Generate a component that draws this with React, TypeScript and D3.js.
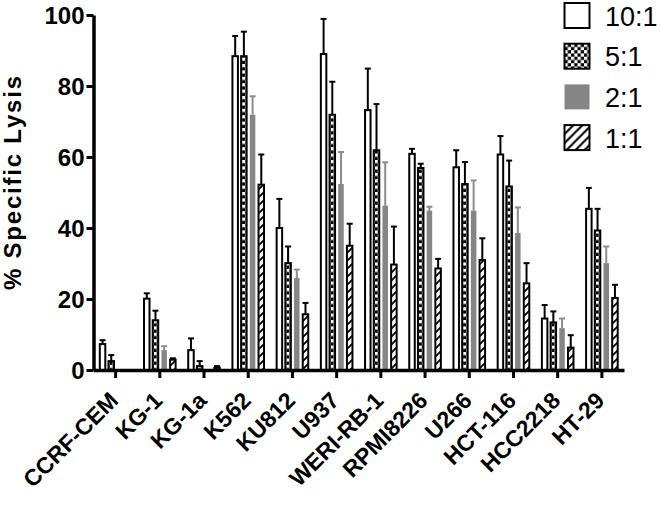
import React, { useRef, useEffect } from 'react';
import * as d3 from 'd3';

const cellLines = ['CCRF-CEM', 'KG-1', 'KG-1a', 'K562', 'KU812', 'U937', 'WERI-RB-1', 'RPMI8226', 'U266', 'HCT-116', 'HCC2218', 'HT-29'];
const ratios = ['10:1', '5:1', '2:1', '1:1'];

// mean % lysis and upper error (SEM) per E:T ratio
const ratio10 = [7.3, 20.1, 5.6, 88.4, 40.0, 89.0, 73.2, 60.9, 57.1, 60.7, 14.5, 45.4];
const ratio10Err = [1.1, 1.5, 3.3, 5.7, 8.2, 9.9, 11.7, 1.4, 4.8, 5.2, 3.8, 5.9];
const ratio5 = [2.5, 14.0, 1.1, 88.4, 30.1, 71.9, 61.9, 56.9, 52.4, 51.7, 13.4, 39.3];
const ratio5Err = [1.7, 2.7, 1.4, 6.9, 4.7, 9.3, 13.0, 1.2, 6.2, 7.3, 3.1, 6.1];
const ratio2 = [0, 5.6, 0, 71.9, 25.9, 52.4, 46.3, 44.9, 44.9, 38.6, 11.8, 30.1];
const ratio2Err = [0, 1.1, 0, 5.2, 2.4, 9.0, 12.2, 1.1, 8.5, 7.2, 2.7, 4.7];
const ratio1 = [0, 2.9, 0.6, 52.2, 15.7, 35.0, 29.7, 28.6, 31.0, 24.4, 6.3, 20.3];
const ratio1Err = [0, 0.4, 0.5, 8.5, 3.2, 6.2, 10.7, 2.7, 6.1, 5.7, 3.5, 3.7];

const yTicks = [0, 20, 40, 60, 80, 100];

const FONT = "Arial, 'Liberation Sans', Helvetica, sans-serif";
const GRAY = '#858585';

export default function App() {
  const xAxisRef = useRef<SVGGElement>(null);
  const yAxisRef = useRef<SVGGElement>(null);

  const width = 661;
  const height = 507;
  const x0 = 93.5, x1 = 624, yBase = 370, yTop = 15;

  const x = d3.scaleBand<string>().domain(cellLines).range([x0, x1]).padding(0);
  const xInner = d3.scaleBand<string>().domain(ratios).range([-16.8, 16.8]).paddingInner(0.138);
  const y = d3.scaleLinear().domain([0, 100]).range([yBase, yTop]);

  const means = [ratio10, ratio5, ratio2, ratio1];
  const errs = [ratio10Err, ratio5Err, ratio2Err, ratio1Err];

  useEffect(() => {
    const yAxis = d3.axisLeft(y).tickValues(yTicks).tickSize(7).tickSizeOuter(0).tickPadding(2);
    const gy = d3.select(yAxisRef.current!);
    gy.call(yAxis);
    gy.select('.domain').attr('stroke-width', 3.5).attr('stroke', '#000');
    gy.selectAll('.tick line').attr('stroke-width', 3).attr('stroke', '#000');
    gy.selectAll('.tick text')
      .attr('font-family', FONT).attr('font-weight', 'bold').attr('font-size', 24).attr('fill', '#000')
      .attr('dy', '0.36em');

    const xAxis = d3.axisBottom(x).tickSize(8).tickSizeOuter(0);
    const gx = d3.select(xAxisRef.current!);
    gx.call(xAxis);
    gx.select('.domain').attr('stroke-width', 3.5).attr('stroke', '#000');
    gx.selectAll('.tick line').attr('stroke-width', 3).attr('stroke', '#000');
    gx.selectAll('.tick text')
      .attr('font-family', FONT).attr('font-weight', 'bold').attr('font-size', 23).attr('fill', '#000')
      .attr('x', 0).attr('y', 0).attr('dy', 0)
      .attr('text-anchor', 'end')
      .attr('transform', 'translate(4,32) rotate(-45)');
  }, []);

  const bw = xInner.bandwidth();
  const sw = 2;

  const fillFor = (s: number, gi: number) => {
    if (s === 0) return '#fff';
    if (s === 1) return `url(#chk-${gi})`;
    if (s === 2) return GRAY;
    return 'url(#hatch)';
  };

  const legendX = 564.5;
  const legendRow = 40.7;
  const box = 25;

  return (
    <svg width={width} height={height} style={{ position: 'absolute', left: 0, top: 0, background: '#fff' }}>
      <defs>
        {cellLines.map((c, gi) => (
          <pattern key={c} id={`chk-${gi}`} patternUnits="userSpaceOnUse"
            x={(x(c) ?? 0) + x.bandwidth() / 2 + (xInner(ratios[1]) ?? 0) + sw / 2 + sw / 2} y={0}
            width={6.4} height={6.4}>
            <rect width={6.4} height={6.4} fill="#000" />
            <rect x={0} y={0} width={3.2} height={3.2} fill="#fff" />
            <rect x={3.2} y={3.2} width={3.2} height={3.2} fill="#fff" />
          </pattern>
        ))}
        <pattern id="chk-legend" patternUnits="userSpaceOnUse" x={legendX} y={3 + legendRow} width={6.5} height={6.5}>
          <rect width={6.5} height={6.5} fill="#000" />
          <rect x={0} y={0} width={3.25} height={3.25} fill="#fff" />
          <rect x={3.25} y={3.25} width={3.25} height={3.25} fill="#fff" />
        </pattern>
        <pattern id="hatch" patternUnits="userSpaceOnUse" width={8} height={8}>
          <rect width={8} height={8} fill="#fff" />
          <path d="M-2,2 L2,-2 M0,8 L8,0 M6,10 L10,6" stroke="#000" strokeWidth={1.8} />
        </pattern>
        <pattern id="hatch-legend" patternUnits="userSpaceOnUse" x={legendX} y={3 + 3 * legendRow} width={9} height={9}>
          <rect width={9} height={9} fill="#fff" />
          <path d="M-2,2 L2,-2 M0,9 L9,0 M7,11 L11,7" stroke="#000" strokeWidth={2} />
        </pattern>
      </defs>

      {/* bars */}
      {cellLines.map((c, gi) => {
        const cx = (x(c) ?? 0) + x.bandwidth() / 2;
        return (
          <g key={c}>
            {ratios.map((r, s) => {
              const v = means[s][gi];
              if (v <= 0) return null;
              const bx = cx + (xInner(r) ?? 0);
              const top = y(v);
              const errTop = y(v + errs[s][gi]);
              const mid = bx + bw / 2;
              const errColor = s === 2 ? '#8c8c8c' : '#000';
              return (
                <g key={r}>
                  <line x1={mid} x2={mid} y1={top} y2={errTop} stroke={errColor} strokeWidth={2} />
                  <line x1={mid - 3} x2={mid + 3} y1={errTop} y2={errTop} stroke={errColor} strokeWidth={2} />
                  <rect x={bx + sw / 2} y={top} width={bw - sw} height={yBase - top}
                    fill={fillFor(s, gi)}
                    stroke={s === 2 ? 'none' : '#000'} strokeWidth={sw} />
                </g>
              );
            })}
          </g>
        );
      })}

      <g ref={xAxisRef} transform={`translate(0,${yBase})`} />
      <g ref={yAxisRef} transform={`translate(${x0},0)`} />

      <text transform={`translate(20.5,${(76 + 290) / 2}) rotate(-90)`} textAnchor="middle"
        fontFamily={FONT} fontWeight="bold" fontSize={24} textLength={214} lengthAdjust="spacing">
        % Specific Lysis
      </text>

      {/* legend */}
      {ratios.map((r, s) => {
        const ty = 3 + s * legendRow;
        const fill = s === 0 ? '#fff' : s === 1 ? 'url(#chk-legend)' : s === 2 ? GRAY : 'url(#hatch-legend)';
        return (
          <g key={r}>
            <rect x={legendX} y={ty} width={box} height={box} fill={fill}
              stroke={s === 2 ? 'none' : '#000'} strokeWidth={2} />
            <text x={605} y={ty + 22.5} fontFamily={FONT} fontSize={27} fill="#000">{r}</text>
          </g>
        );
      })}
    </svg>
  );
}
